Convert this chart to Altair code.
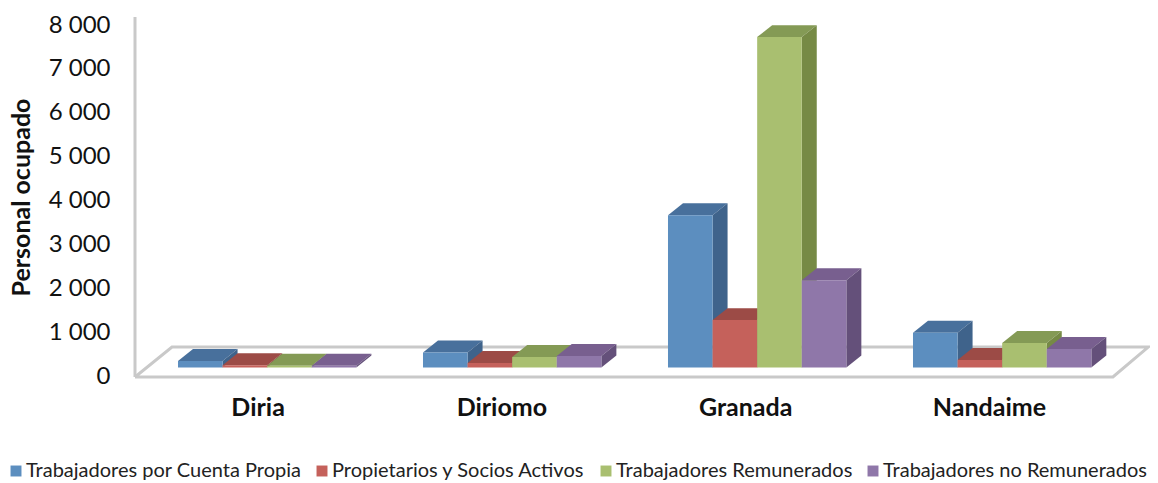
import altair as alt
import pandas as pd

municipios = ["Diria", "Diriomo", "Granada", "Nandaime"]
series = ["Trabajadores por Cuenta Propia", "Propietarios y Socios Activos",
          "Trabajadores Remunerados", "Trabajadores no Remunerados"]
cuenta_propia = [150, 340, 3470, 790]
propietarios = [50, 100, 1080, 170]
remunerados = [40, 240, 7530, 560]
no_remunerados = [40, 260, 1990, 420]
values = [cuenta_propia, propietarios, remunerados, no_remunerados]

front = ["#5c8ebf", "#c5615b", "#a9bf70", "#8f77a9"]
top = ["#48709c", "#9c4b46", "#849a55", "#785f8f"]
side = ["#3f638b", "#8a3f3b", "#768a45", "#64507a"]

FONT = "Lato"
BW = 0.182          # bar width, in category steps
DX = 0.0612         # depth, horizontally, in category steps
DV = 273            # depth, in axis units
BASE = 194          # front of the bars above the axis zero
XDOM = [-0.1755, 3.9674]
YDOM = [0, 8000]
xs = alt.Scale(domain=XDOM, nice=False, zero=False)
ys = alt.Scale(domain=YDOM, nice=False, zero=False)
X = lambda f="x": alt.X(f"{f}:Q", scale=xs, axis=None)
y_axis = alt.Axis(
    values=list(range(0, 8001, 1000)), grid=False, domain=False, ticks=False,
    labelFont=FONT, labelFontSize=24, labelColor="#111111", labelPadding=25,
    labelExpr="replace(format(datum.value, ','), ',', ' ')",
    title="Personal ocupado", titleFont=FONT, titleFontSize=25, titleFontWeight="bold",
    titleColor="#111111", titleX=-101, titleY=172)
Y = lambda: alt.Y("y:Q", scale=ys, axis=y_axis, stack=None)

frame_rows = [
    ("wall", -0.1755, 8182), ("wall", -0.1755, -23),
    ("floor", -0.1755, -23), ("floor", 3.816, -23), ("floor", 3.96, 660),
    ("floor", -0.0245, 660), ("floor", -0.1755, -23),
]
frame_df = pd.DataFrame(frame_rows, columns=["part", "x", "y"])
frame_df["o"] = range(len(frame_df))
frame = alt.Chart(frame_df).mark_line(color="#c9c9c9", strokeWidth=3, clip=False).encode(
    x=X(), y=Y(), detail="part:N", order="o:Q")

layers = [frame]
for j, s in enumerate(series):
    fr, tp, sd = [], [], []
    for i, m in enumerate(municipios):
        x0 = i + j * BW
        yt = BASE + values[j][i]
        fr.append({"x": x0, "x2": x0 + BW, "y": yt, "y2": BASE, "serie": s})
        for x, a, b in [(x0, yt, yt), (x0 + DX, yt + DV, yt), (x0 + BW, yt + DV, yt),
                        (x0 + BW + DX, yt + DV, yt + DV)]:
            tp.append({"bar": m, "x": x, "y": a, "y2": b})
        for x, a, b in [(x0 + BW, yt, BASE), (x0 + BW + DX, yt + DV, BASE + DV)]:
            sd.append({"bar": m, "x": x, "y": a, "y2": b})
    for rows, col in ((tp, top[j]), (sd, side[j])):
        layers.append(alt.Chart(pd.DataFrame(rows)).mark_area(color=col, opacity=1, clip=False).encode(
            x=X(), y=Y(), y2="y2:Q", detail="bar:N"))
    layers.append(alt.Chart(pd.DataFrame(fr)).mark_rect(clip=False).encode(
        x=X(), x2="x2:Q", y=Y(), y2="y2:Q",
        color=alt.Color("serie:N", scale=alt.Scale(domain=series, range=front), sort=series,
                        legend=alt.Legend(
                            orient="none", legendX=-129, legendY=436, direction="horizontal",
                            columns=4, title=None, symbolType="square", symbolSize=120,
                            symbolStrokeWidth=0, symbolOpacity=1, labelFont=FONT, labelFontSize=20,
                            labelColor="#222222", columnPadding=10, labelOffset=0, labelLimit=400))))

label_df = pd.DataFrame({"m": municipios, "x": [0.327 + i * 0.995 for i in range(len(municipios))]})
layers.append(alt.Chart(label_df).mark_text(font=FONT, fontSize=25, fontWeight="bold", color="#111111",
                                            baseline="middle", align="center").encode(
    x=X(), y=alt.value(383), text="m:N"))

chart = alt.layer(*layers).properties(
    width=1015, height=351,
    autosize=alt.AutoSizeParams(type="none"),
    padding={"left": 127, "right": 0, "top": 17, "bottom": 105},
    background="white",
).configure_view(stroke=None)

chart.save("out.html", embed_options={"renderer": "svg", "actions": False})
